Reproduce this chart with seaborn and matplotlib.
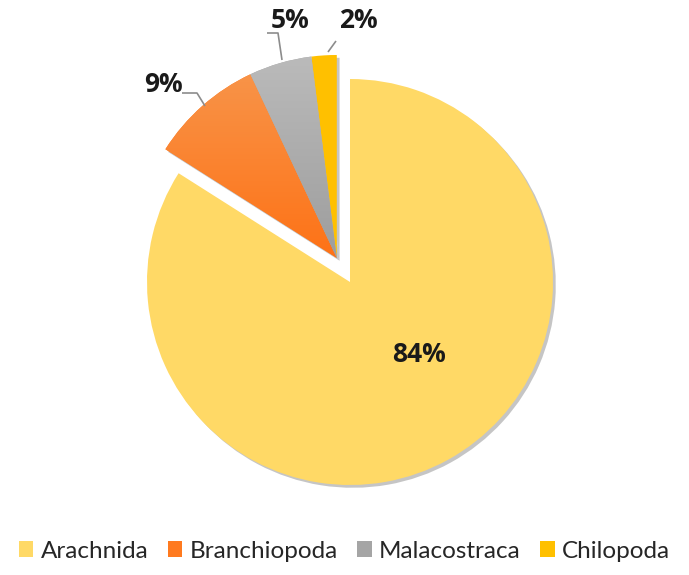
import matplotlib
matplotlib.use('Agg')
import numpy as np
import matplotlib.pyplot as plt
import matplotlib.patheffects as pe
from matplotlib.patches import Patch
import seaborn as sns

# Data
categories = ['Arachnida', 'Branchiopoda', 'Malacostraca', 'Chilopoda']
shares = [84, 9, 5, 2]
pct_labels = ['84%', '9%', '5%', '2%']
colors = ['#FFD966', '#FF7A1F', '#A5A5A5', '#FFC000']

sns.set_theme(style='white')
plt.rcParams['font.family'] = ['Lato', 'DejaVu Sans']

fig = plt.figure(figsize=(6.89, 5.75), dpi=100)
ax = fig.add_axes([0, 0, 1, 1])

# Pixel scale: pie radius 203 px, centre at (350, 282) from top-left
R = 203.0
cx, cy = 350.0, 282.0

shadow = [pe.SimplePatchShadow(offset=(2, -2), shadow_rgbFace='#808080', alpha=0.45), pe.Normal()]

# Big slice at the normal centre
w_main, _ = ax.pie(shares, colors=colors, startangle=90, counterclock=False,
                   wedgeprops=dict(linewidth=0), radius=1, center=(0, 0))
for w in w_main[1:]:
    w.set_visible(False)
w_main[0].set_path_effects(shadow)

# The three small slices pulled out together along their common mid-angle
small_total = sum(shares[1:]) / sum(shares)
mid = np.deg2rad(90 - 360 * (shares[0] / sum(shares) + small_total / 2))
off = 0.135
w_out, _ = ax.pie(shares, colors=colors, startangle=90, counterclock=False,
                  wedgeprops=dict(linewidth=0), radius=1,
                  center=(off * np.cos(mid), off * np.sin(mid)))
w_out[0].set_visible(False)

# gradients on the orange and grey slices
grad_cmaps = {1: ('#F79A52', '#FF6A0A'), 2: ('#BDBDBD', '#979797')}
for i, w in enumerate(w_out[1:], start=1):
    w.set_path_effects(shadow)
    if i in grad_cmaps:
        cmap = matplotlib.colors.LinearSegmentedColormap.from_list('g', grad_cmaps[i])
        grad = np.linspace(0, 1, 256).reshape(-1, 1)
        im = ax.imshow(grad, cmap=cmap, extent=(-1.2, 0.2, -0.1, 1.2), aspect='auto',
                       origin='upper', zorder=w.get_zorder() + 0.01)
        im.set_clip_path(w)

# percent labels
def px(x, y):
    return (x - cx) / R, (cy - y) / R

lab_font = dict(ha='center', va='center', fontsize=19, fontweight='bold',
                color='#1A1A1A', family=['Open Sans', 'DejaVu Sans'])
ax.text(*px(419, 355), pct_labels[0], **lab_font)
label_pos = [(163, 85), (290, 20), (358, 20)]
for lab, (x, y) in zip(pct_labels[1:], label_pos):
    ax.text(*px(x, y), lab, **lab_font)

# leader lines
leaders = [[(182, 93), (197, 93), (205, 106)],
           [(267, 33), (278, 33), (282, 60)],
           [(336, 41), (328, 52)]]
for pts in leaders:
    xs, ys = zip(*[px(x, y) for x, y in pts])
    ax.plot(xs, ys, color='#8C8C8C', lw=1.2, solid_capstyle='butt')

ax.set_xlim(-cx / R, (689 - cx) / R)
ax.set_ylim(-(575 - cy) / R, cy / R)
ax.set_aspect('auto')
ax.axis('off')

handles = [Patch(facecolor=c, edgecolor='none') for c in colors]
fig.legend(handles, categories, loc='center', bbox_to_anchor=(0.5, 1 - 551 / 575),
           ncol=4, frameon=False, fontsize=17.5, handlelength=0.6, handleheight=0.6,
           handletextpad=0.3, columnspacing=0.8)

fig.savefig('out.png', dpi=100)
